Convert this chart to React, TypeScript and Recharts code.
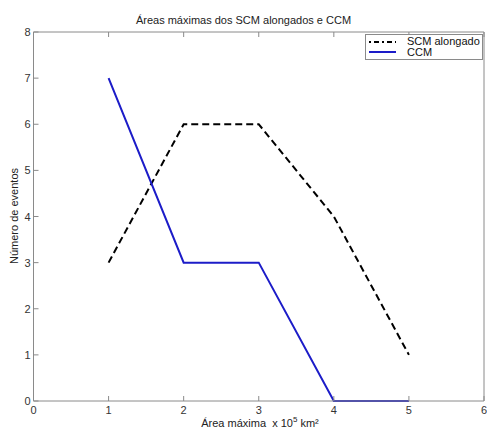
import React from "react";
import { LineChart, Line, XAxis, YAxis } from "recharts";

const categories = [1, 2, 3, 4, 5];
const scmValues = [3, 6, 6, 4, 1];
const ccmValues = [7, 3, 3, 0, 0];
const xTicks = [0, 1, 2, 3, 4, 5, 6];
const yTicks = [0, 1, 2, 3, 4, 5, 6, 7, 8];

const data = categories.map((c, i) => ({ x: c, scm: scmValues[i], ccm: ccmValues[i] }));

const FONT = "'Liberation Sans', Arial, sans-serif";
const AXIS = "#8a8a8a";
const TXT = "#333";

const BottomTick = (props: any) => {
  const { x, y, payload } = props;
  return (
    <g>
      <line x1={x} x2={x} y1={y} y2={y - 5} stroke={AXIS} />
      <text x={x} y={y + 13} textAnchor="middle" fontSize={11} fill={TXT} fontFamily={FONT}>
        {payload.value}
      </text>
    </g>
  );
};
const TopTick = (props: any) => {
  const { x, y } = props;
  return <line x1={x} x2={x} y1={y} y2={y + 5} stroke={AXIS} />;
};
const LeftTick = (props: any) => {
  const { x, y, payload } = props;
  return (
    <g>
      <line x1={x} x2={x + 5} y1={y} y2={y} stroke={AXIS} />
      <text x={x - 3} y={y + 4} textAnchor="end" fontSize={11} fill={TXT} fontFamily={FONT}>
        {payload.value}
      </text>
    </g>
  );
};
const RightTick = (props: any) => {
  const { x, y } = props;
  return <line x1={x} x2={x - 5} y1={y} y2={y} stroke={AXIS} />;
};

export default function App() {
  return (
    <div style={{ position: "fixed", left: 0, top: 0, width: 487, height: 433, background: "#fff", fontFamily: FONT }}>
      <LineChart width={487} height={433} data={data} margin={{ top: 0, right: 0, bottom: 0, left: 0 }}>
        <XAxis
          xAxisId="b"
          dataKey="x"
          type="number"
          domain={[0, 6]}
          ticks={xTicks}
          height={32}
          stroke={AXIS}
          tickLine={false}
          tickSize={0}
          tickMargin={0}
          tick={<BottomTick />}
          interval={0}
        />
        <XAxis
          xAxisId="t"
          orientation="top"
          dataKey="x"
          type="number"
          domain={[0, 6]}
          ticks={xTicks}
          height={32}
          stroke={AXIS}
          tickLine={false}
          tickSize={0}
          tickMargin={0}
          tick={<TopTick />}
          interval={0}
        />
        <YAxis
          yAxisId="l"
          type="number"
          domain={[0, 8]}
          ticks={yTicks}
          width={33.5}
          stroke={AXIS}
          tickLine={false}
          tickSize={0}
          tickMargin={0}
          tick={<LeftTick />}
          interval={0}
        />
        <YAxis
          yAxisId="r"
          orientation="right"
          type="number"
          domain={[0, 8]}
          ticks={yTicks}
          width={3}
          stroke={AXIS}
          tickLine={false}
          tickSize={0}
          tickMargin={0}
          tick={<RightTick />}
          interval={0}
        />
        <Line
          xAxisId="b"
          yAxisId="l"
          dataKey="scm"
          stroke="#000"
          strokeWidth={2}
          strokeDasharray="7 4"
          dot={false}
          isAnimationActive={false}
        />
        <Line
          xAxisId="b"
          yAxisId="l"
          dataKey="ccm"
          stroke="#1c1cc8"
          strokeWidth={2}
          dot={false}
          isAnimationActive={false}
        />
      </LineChart>
      <div style={{ position: "absolute", left: 0, width: 487, top: 14, textAlign: "center", fontSize: 11, color: "#222" }}>
        Áreas máximas dos SCM alongados e CCM
      </div>
      <div style={{ position: "absolute", left: 160, width: 200, top: 415, textAlign: "center", fontSize: 11, color: "#222", whiteSpace: "nowrap" }}>
        Área máxima&nbsp; x 10<sup style={{ fontSize: 8 }}>5</sup> km²
      </div>
      <div
        style={{
          position: "absolute",
          left: 14,
          top: 216,
          transform: "translate(-50%, -50%) rotate(-90deg)",
          fontSize: 11,
          color: "#222",
          whiteSpace: "nowrap",
        }}
      >
        Número de eventos
      </div>
      <div
        style={{
          position: "absolute",
          left: 365,
          top: 34,
          width: 116,
          height: 24,
          border: "1px solid #8a8a8a",
          background: "#fff",
          fontSize: 11,
          color: "#111",
        }}
      >
        <svg width={30} height={24} style={{ position: "absolute", left: 2, top: 0 }}>
          <line x1={1} x2={28} y1={7} y2={7} stroke="#000" strokeWidth={2} strokeDasharray="2 3 5 3" />
          <line x1={1} x2={28} y1={17} y2={17} stroke="#1c1cc8" strokeWidth={2} />
        </svg>
        <div style={{ position: "absolute", left: 41, top: 0, lineHeight: "12px" }}>SCM alongado</div>
        <div style={{ position: "absolute", left: 41, top: 11, lineHeight: "12px" }}>CCM</div>
      </div>
    </div>
  );
}
